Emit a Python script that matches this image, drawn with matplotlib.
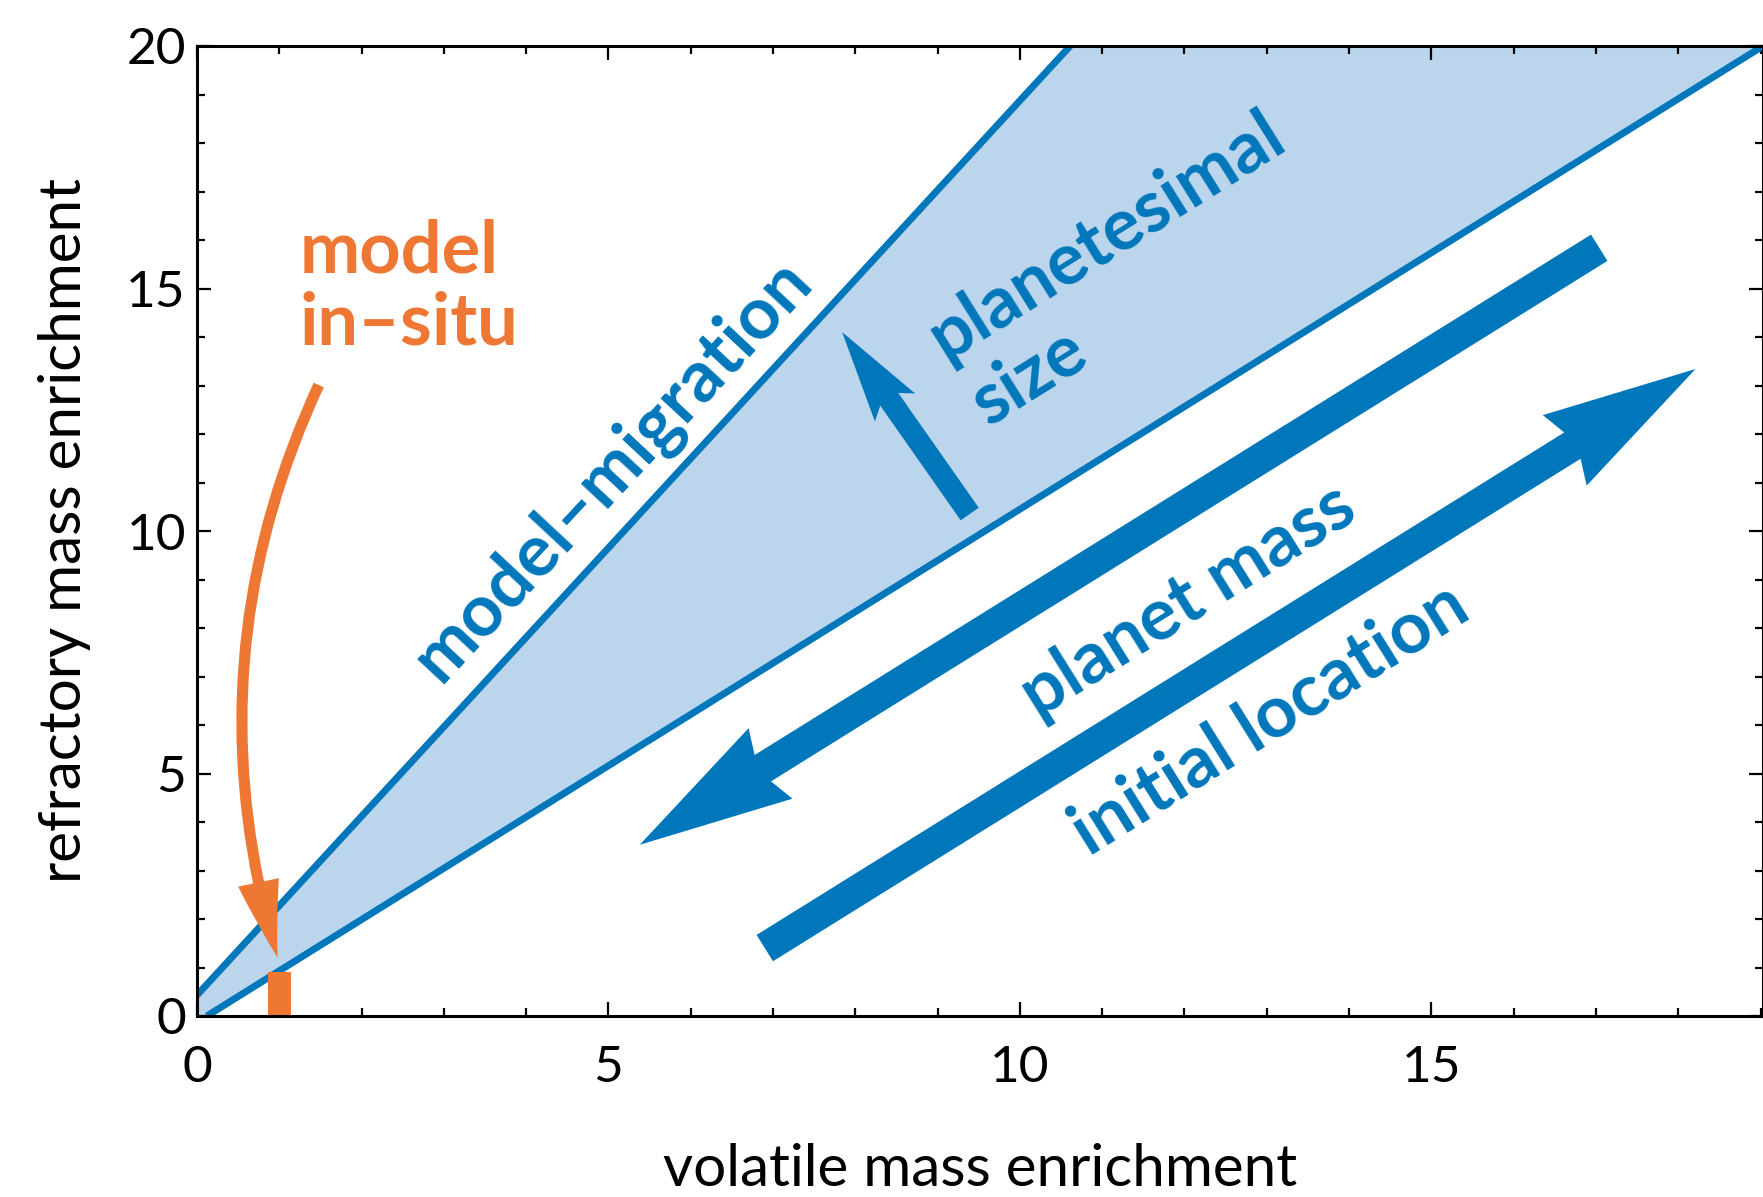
import matplotlib
matplotlib.use("Agg")
import matplotlib.pyplot as plt
import numpy as np
from matplotlib.patches import Polygon, FancyArrowPatch, ArrowStyle
from matplotlib.transforms import IdentityTransform
from matplotlib.ticker import MultipleLocator

# ---------------- data ----------------
upper_x = [0.0, 10.61]          # model-migration upper boundary
upper_y = [0.43, 20.0]
lower_x = [0.12, 19.03]         # model-migration lower boundary
lower_y = [0.0, 20.0]

insitu_x = [1.0]                # model in-situ
insitu_h = [0.91]
insitu_w = 0.28

x_major = [0, 5, 10, 15]
y_major = [0, 5, 10, 15, 20]
xlim = (0, 19.03)
ylim = (0, 20)

# arrows: (tail, tip) in data coordinates
arrow_planet_mass = [(17.04, 15.84), (5.38, 3.53)]
arrow_init_loc = [(6.90, 1.40), (18.21, 13.34)]
arrow_plsize = [(9.39, 10.35), (7.84, 14.10)]
arrow_insitu = [(1.48, 13.01), (0.98, 1.20)]

BLUE = "#0077BB"
FILL = "#BBD5ED"
ORANGE = "#EE7733"

plt.rcParams['font.family'] = ['Lato', 'DejaVu Sans']

W, H, DPI = 1763, 1197, 100
fig = plt.figure(figsize=(W / DPI, H / DPI), dpi=DPI)
ax = fig.add_axes([197 / W, 1 - 1016 / H, (W - 197) / W, (1016 - 46) / H])
ax.set_xlim(*xlim)
ax.set_ylim(*ylim)

# filled wedge
poly_x = [0.0] + upper_x + lower_x[::-1]
poly_y = [0.0] + upper_y + lower_y[::-1]
ax.fill(poly_x, poly_y, color=FILL, lw=0, zorder=1)
ax.plot(upper_x, upper_y, color=BLUE, lw=5, solid_capstyle='butt', zorder=2)
ax.plot(lower_x, lower_y, color=BLUE, lw=5, solid_capstyle='butt', zorder=2)

ax.bar(insitu_x, insitu_h, width=insitu_w, color=ORANGE, zorder=3)

# axes styling
for s in ax.spines.values():
    s.set_linewidth(2.2)
    s.set_zorder(6)
ax.set_xticks(x_major)
ax.set_yticks(y_major)
ax.xaxis.set_minor_locator(MultipleLocator(1))
ax.yaxis.set_minor_locator(MultipleLocator(1))
ax.tick_params(which='both', direction='in', top=True, right=True, width=1.6)
ax.tick_params(which='major', length=10, labelsize=37)
ax.tick_params(which='minor', length=6)
ax.tick_params(axis='x', which='major', pad=21)
ax.tick_params(axis='y', which='major', pad=8)

fig.text(980 / W, 1 - 1169 / H, "volatile mass enrichment", ha='center', va='center', fontsize=42)
fig.text(65 / W, 1 - 531 / H, "refractory mass enrichment", ha='center', va='center',
         rotation=90, fontsize=42)


def block_arrow(tail, tip, shaft_w, head_w, head_len, notch_len, color):
    p0 = ax.transData.transform(tail)
    p1 = ax.transData.transform(tip)
    u = (p1 - p0) / np.hypot(*(p1 - p0))
    n = np.array([-u[1], u[0]])
    neck = p1 - u * notch_len
    barb = p1 - u * head_len
    pts = [p0 + n * shaft_w / 2, neck + n * shaft_w / 2, barb + n * head_w / 2, p1,
           barb - n * head_w / 2, neck - n * shaft_w / 2, p0 - n * shaft_w / 2]
    ax.add_patch(Polygon(pts, closed=True, transform=IdentityTransform(),
                         facecolor=color, edgecolor='none', zorder=5, clip_on=False))


block_arrow(*arrow_planet_mass, 31, 83, 154, 145, BLUE)
block_arrow(*arrow_init_loc, 31, 83, 154, 145, BLUE)
block_arrow(*arrow_plsize, 22, 49, 92, 82, BLUE)

ax.add_patch(FancyArrowPatch(arrow_insitu[0], arrow_insitu[1],
                             connectionstyle='arc3,rad=0.19',
                             arrowstyle=ArrowStyle.Simple(head_length=56, head_width=30, tail_width=8),
                             mutation_scale=1, shrinkA=0, shrinkB=0,
                             color=ORANGE, lw=0, zorder=5))

bold = dict(fontweight='bold', fontsize=52)
ax.text(1.25, 15.32, "model", color=ORANGE, ha='left', va='baseline', **bold)
ax.text(1.25, 13.84, "in\u2013situ", color=ORANGE, ha='left', va='baseline', **bold)

ax.text(5.05, 11.26, "model\u2013migration", color=BLUE, ha='center', va='center',
        rotation=47, rotation_mode='anchor', **bold)
ax.text(11.06, 16.08, "planetesimal", color=BLUE, ha='center', va='center',
        rotation=32, rotation_mode='anchor', **bold)
ax.text(10.11, 13.18, "size", color=BLUE, ha='center', va='center',
        rotation=32, rotation_mode='anchor', **bold)
ax.text(12.05, 8.55, "planet mass", color=BLUE, ha='center', va='center',
        rotation=32, rotation_mode='anchor', **bold)
ax.text(13.04, 6.11, "initial location", color=BLUE, ha='center', va='center',
        rotation=32, rotation_mode='anchor', **bold)

ax.set_xlim(*xlim)
ax.set_ylim(*ylim)
fig.savefig("out.png", dpi=DPI)
